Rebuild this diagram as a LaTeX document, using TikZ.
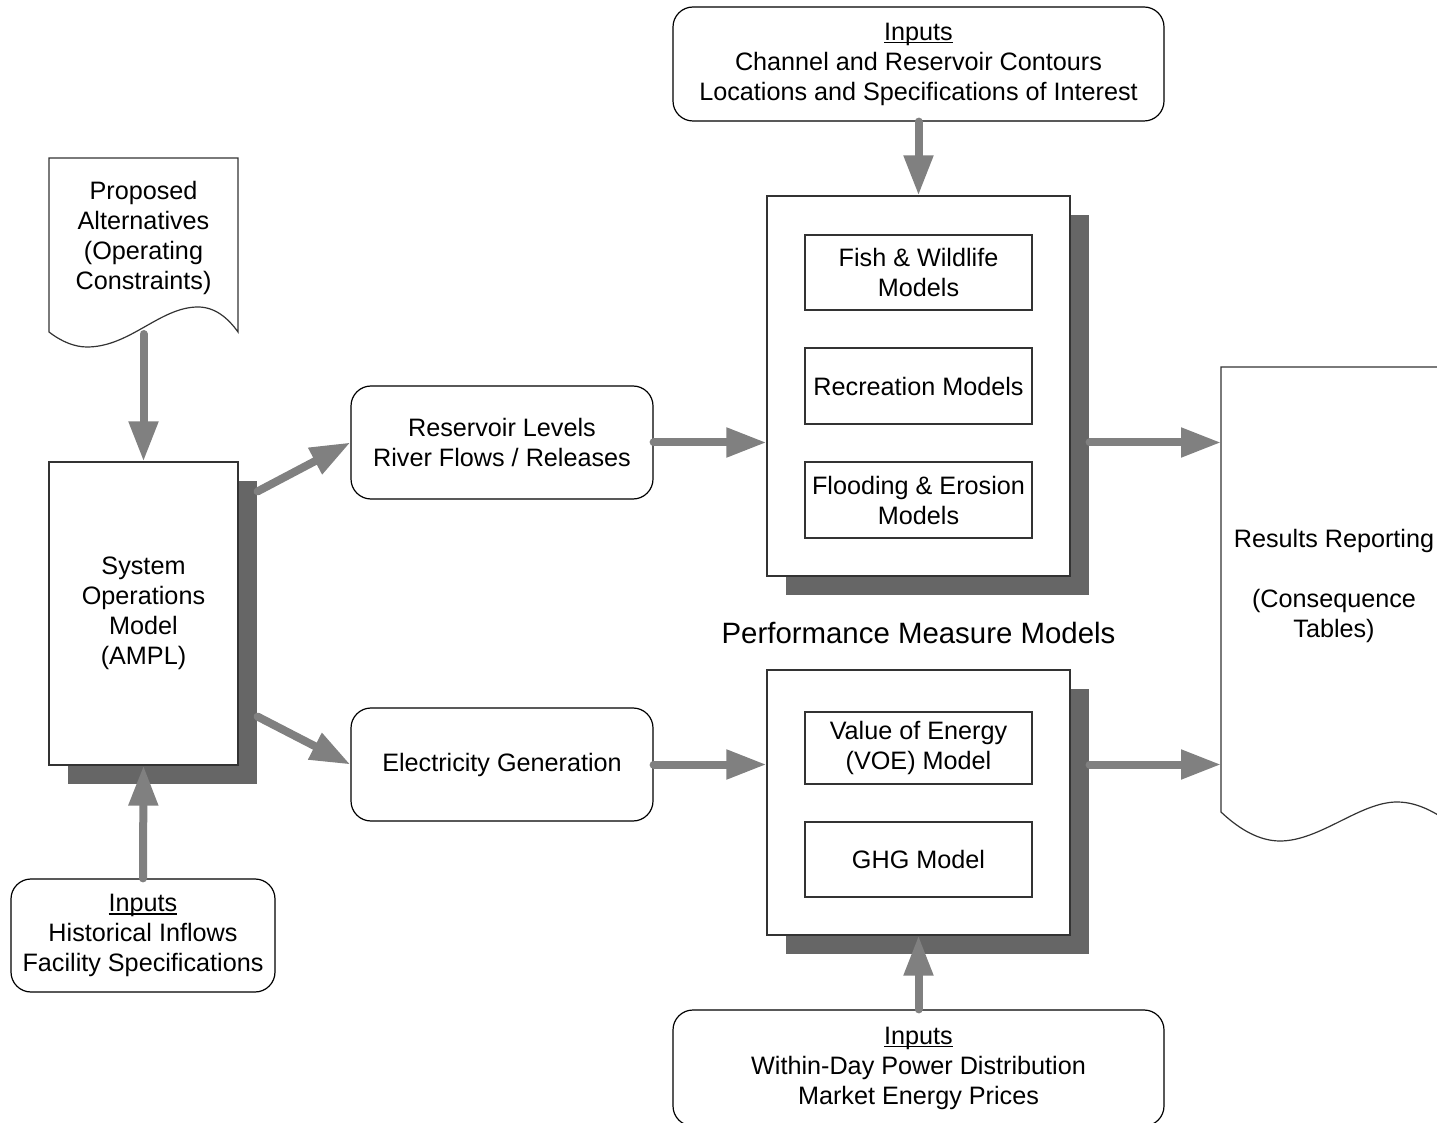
\documentclass[tikz,border=0pt]{standalone}
\usepackage{fontspec}
\setmainfont{Liberation Sans}
\usetikzlibrary{arrows.meta,calc,shadows}
\definecolor{arrowgray}{RGB}{128,128,128}
\definecolor{shadowgray}{RGB}{102,102,102}
\newcommand\myul[1]{\setbox0\hbox{#1}\rlap{\rule[-1.6pt]{\wd0}{0.7pt}}\box0}
\begin{document}
\begin{tikzpicture}[x=0.5pt,y=-0.5pt,
  every node/.style={font=\fontsize{12.6}{15}\selectfont, align=center, inner sep=0pt},
  rbox/.style={draw=black, line width=0.6pt, rounded corners=10pt, fill=white},
  sbox/.style={draw=black!80, line width=0.6pt, fill=white,
     general shadow={fill=shadowgray, shadow xshift=9.5pt, shadow yshift=-9.5pt}},
  ibox/.style={draw=black!80, line width=0.6pt, fill=white, minimum width=113.5pt},
  doc/.style={draw=black!80, line width=0.6pt, fill=white},
  flow/.style={draw=arrowgray, line width=4pt, line cap=round,
     -{Triangle[length=20pt,width=14pt]}}
]
\useasboundingbox (0,0) rectangle (1437,1123);

% top inputs
\node[rbox, minimum width=245.5pt, minimum height=57pt] (tin) at (918.5,64)
  {\myul{Inputs}\\Channel and Reservoir Contours\\Locations and Specifications of Interest};

% upper performance box
\node[sbox, minimum width=151.5pt, minimum height=190pt] (pu) at (918.5,386) {};
\node[ibox, minimum height=37.5pt] (fish) at (918.5,272.5) {Fish \& Wildlife\\Models};
\node[ibox, minimum height=38pt] (rec) at (918.5,386) {Recreation Models};
\node[ibox, minimum height=38pt] (flood) at (918.5,500) {Flooding \& Erosion\\Models};

\node[font=\fontsize{14.7}{17}\selectfont] (pmm) at (918.5,633) {Performance Measure Models};

% lower performance box
\node[sbox, minimum width=151.5pt, minimum height=132.5pt] (pl) at (918.5,802.5) {};
\node[ibox, minimum height=36pt] (voe) at (918.5,748) {Value of Energy\\(VOE) Model};
\node[ibox, minimum height=37.5pt] (ghg) at (918.5,859.5) {GHG Model};

% bottom inputs
\node[rbox, minimum width=245.5pt, minimum height=58pt] (bin) at (918.5,1068)
  {\myul{Inputs}\\Within-Day Power Distribution\\Market Energy Prices};

% middle boxes
\node[rbox, minimum width=151pt, minimum height=56.5pt] (resv) at (502,442.5)
  {Reservoir Levels\\River Flows / Releases};
\node[rbox, minimum width=151pt, minimum height=56.5pt] (elec) at (502,764.5)
  {Electricity Generation};

% system operations model
\node[sbox, minimum width=94.5pt, minimum height=151.5pt] (sys) at (143.5,613.5)
  {System\\Operations\\Model\\(AMPL)};

% historical inputs
\node[rbox, minimum width=132pt, minimum height=56.5pt] (hist) at (143,935.5)
  {\myul{Inputs}\\Historical Inflows\\Facility Specifications};

% proposed alternatives (document shape)
\draw[doc] (49,332) -- (49,158) -- (238,158) -- (238,332)
  .. controls (228,318) and (215,307) .. (198,307)
  .. controls (160,307) and (130,347) .. (87,347)
  .. controls (75,347) and (62,342) .. (49,332) -- cycle;
\node (prop) at (143.5,237.5) {Proposed\\Alternatives\\(Operating\\Constraints)};
\coordinate (propb) at (143.5,334);

% results reporting (document shape)
\draw[doc] (1221,812) -- (1221,367) -- (1460,367) -- (1460,830)
  .. controls (1440,815) and (1420,802) .. (1397,802)
  .. controls (1360,802) and (1320,841) .. (1280,841)
  .. controls (1260,841) and (1240,830) .. (1221,812) -- cycle;
\node (rep) at (1334,585.5) {Results Reporting\\\mbox{}\\(Consequence\\Tables)};
\coordinate (repw) at (1221,600);

% connectors
\draw[flow] (tin.south) -- (pu.north);
\draw[flow] (bin.north) -- (pl.south);
\draw[flow] (propb) -- (sys.north);
\draw[flow] (hist.north) -- (sys.south);
\draw[flow] ($(sys.north east)+(19,30)$) -- (resv.west);
\draw[flow] ($(sys.south east)+(19,-49)$) -- (elec.west);
\draw[flow] (resv.east) -- (resv.east -| pu.west);
\draw[flow] (elec.east) -- (elec.east -| pl.west);
\draw[flow] ($(pu.east |- resv.east)+(19,0)$) -- (resv.east -| repw);
\draw[flow] ($(pl.east |- elec.east)+(19,0)$) -- (elec.east -| repw);
\end{tikzpicture}
\end{document}
